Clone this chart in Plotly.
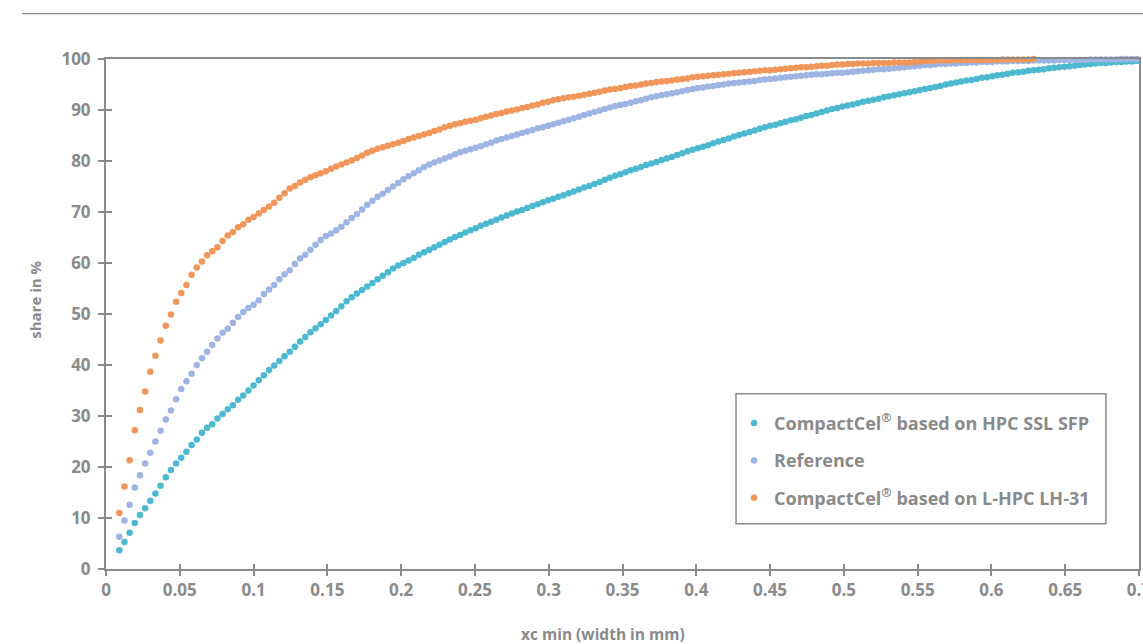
import plotly.graph_objects as go

# x classes (xc min, width in mm)
xc_min = [
    0.0090, 0.0125, 0.0160, 0.0195, 0.0230, 0.0265, 0.0300, 0.0335, 0.0370, 0.0405,
    0.0440, 0.0475, 0.0510, 0.0545, 0.0580, 0.0615, 0.0650, 0.0685, 0.0720, 0.0755,
    0.0790, 0.0825, 0.0860, 0.0895, 0.0930, 0.0965, 0.1000, 0.1035, 0.1070, 0.1105,
    0.1140, 0.1175, 0.1210, 0.1245, 0.1280, 0.1315, 0.1350, 0.1385, 0.1420, 0.1455,
    0.1490, 0.1525, 0.1560, 0.1595, 0.1630, 0.1665, 0.1700, 0.1735, 0.1770, 0.1805,
    0.1840, 0.1875, 0.1910, 0.1945, 0.1980, 0.2015, 0.2050, 0.2085, 0.2120, 0.2155,
    0.2190, 0.2225, 0.2260, 0.2295, 0.2330, 0.2365, 0.2400, 0.2435, 0.2470, 0.2505,
    0.2540, 0.2575, 0.2610, 0.2645, 0.2680, 0.2715, 0.2750, 0.2785, 0.2820, 0.2855,
    0.2890, 0.2925, 0.2960, 0.2995, 0.3030, 0.3065, 0.3100, 0.3135, 0.3170, 0.3205,
    0.3240, 0.3275, 0.3310, 0.3345, 0.3380, 0.3415, 0.3450, 0.3485, 0.3520, 0.3555,
    0.3590, 0.3625, 0.3660, 0.3695, 0.3730, 0.3765, 0.3800, 0.3835, 0.3870, 0.3905,
    0.3940, 0.3975, 0.4010, 0.4045, 0.4080, 0.4115, 0.4150, 0.4185, 0.4220, 0.4255,
    0.4290, 0.4325, 0.4360, 0.4395, 0.4430, 0.4465, 0.4500, 0.4535, 0.4570, 0.4605,
    0.4640, 0.4675, 0.4710, 0.4745, 0.4780, 0.4815, 0.4850, 0.4885, 0.4920, 0.4955,
    0.4990, 0.5025, 0.5060, 0.5095, 0.5130, 0.5165, 0.5200, 0.5235, 0.5270, 0.5305,
    0.5340, 0.5375, 0.5410, 0.5445, 0.5480, 0.5515, 0.5550, 0.5585, 0.5620, 0.5655,
    0.5690, 0.5725, 0.5760, 0.5795, 0.5830, 0.5865, 0.5900, 0.5935, 0.5970, 0.6005,
    0.6040, 0.6075, 0.6110, 0.6145, 0.6180, 0.6215, 0.6250, 0.6285, 0.6320, 0.6355,
    0.6390, 0.6425, 0.6460, 0.6495, 0.6530, 0.6565, 0.6600, 0.6635, 0.6670, 0.6705,
    0.6740, 0.6775, 0.6810, 0.6845, 0.6880, 0.6915, 0.6950, 0.6985,
]

# share in % - CompactCel based on HPC SSL SFP
hpc_ssl_sfp = [
    3.7, 5.3, 7.1, 9.0, 10.6, 11.9, 13.4, 14.8, 16.3, 18.0,
    19.4, 20.7, 21.8, 23.0, 24.3, 25.4, 26.7, 27.7, 28.4, 29.5,
    30.4, 31.3, 32.1, 33.2, 34.0, 35.0, 36.0, 37.0, 38.0, 39.0,
    39.9, 40.8, 41.7, 42.6, 43.6, 44.6, 45.5, 46.4, 47.2, 48.0,
    48.8, 49.7, 50.6, 51.5, 52.5, 53.3, 54.0, 54.7, 55.4, 56.1,
    56.8, 57.5, 58.2, 58.9, 59.5, 60.0, 60.5, 61.0, 61.6, 62.1,
    62.6, 63.1, 63.6, 64.1, 64.6, 65.1, 65.5, 66.0, 66.4, 66.8,
    67.3, 67.7, 68.1, 68.5, 68.9, 69.3, 69.7, 70.1, 70.4, 70.8,
    71.2, 71.5, 71.9, 72.3, 72.6, 73.0, 73.3, 73.7, 74.0, 74.4,
    74.8, 75.1, 75.5, 75.9, 76.3, 76.7, 77.1, 77.4, 77.8, 78.2,
    78.5, 78.8, 79.2, 79.5, 79.8, 80.2, 80.5, 80.8, 81.2, 81.5,
    81.9, 82.2, 82.5, 82.8, 83.1, 83.5, 83.8, 84.1, 84.4, 84.8,
    85.1, 85.4, 85.7, 86.0, 86.3, 86.6, 86.9, 87.1, 87.4, 87.7,
    88.0, 88.2, 88.5, 88.8, 89.0, 89.3, 89.6, 89.9, 90.2, 90.4,
    90.7, 90.9, 91.1, 91.3, 91.6, 91.8, 92.0, 92.2, 92.5, 92.7,
    92.9, 93.1, 93.3, 93.5, 93.7, 93.9, 94.1, 94.3, 94.5, 94.7,
    95.0, 95.2, 95.4, 95.6, 95.8, 95.9, 96.1, 96.3, 96.4, 96.6,
    96.8, 96.9, 97.1, 97.3, 97.4, 97.5, 97.7, 97.8, 97.9, 98.0,
    98.2, 98.3, 98.4, 98.5, 98.6, 98.7, 98.8, 98.9, 99.0, 99.1,
    99.2, 99.2, 99.3, 99.4, 99.4, 99.5, 99.5, 99.6,
]

# share in % - Reference
reference = [
    6.3, 9.5, 12.6, 16.0, 18.4, 20.7, 22.8, 25.0, 27.1, 29.3,
    31.1, 33.3, 35.3, 36.8, 38.3, 40.0, 41.3, 42.6, 43.9, 45.2,
    46.3, 47.1, 48.3, 49.4, 50.4, 51.2, 51.8, 52.7, 53.9, 54.8,
    55.7, 56.8, 57.8, 58.6, 59.8, 60.9, 61.6, 62.6, 63.6, 64.5,
    65.3, 65.8, 66.4, 67.1, 68.0, 68.8, 69.6, 70.5, 71.4, 72.2,
    73.0, 73.6, 74.3, 75.0, 75.7, 76.4, 77.0, 77.6, 78.2, 78.8,
    79.3, 79.7, 80.1, 80.5, 80.9, 81.3, 81.7, 82.0, 82.3, 82.6,
    82.9, 83.3, 83.6, 84.0, 84.3, 84.6, 84.9, 85.2, 85.5, 85.8,
    86.1, 86.4, 86.6, 86.9, 87.2, 87.5, 87.8, 88.1, 88.4, 88.7,
    89.0, 89.3, 89.6, 89.9, 90.2, 90.5, 90.8, 91.0, 91.2, 91.4,
    91.7, 91.9, 92.2, 92.5, 92.7, 92.9, 93.1, 93.3, 93.5, 93.7,
    93.9, 94.1, 94.3, 94.4, 94.6, 94.7, 94.9, 95.0, 95.2, 95.3,
    95.4, 95.5, 95.6, 95.7, 95.9, 96.0, 96.1, 96.2, 96.3, 96.4,
    96.5, 96.6, 96.7, 96.8, 96.9, 97.0, 97.0, 97.1, 97.2, 97.3,
    97.3, 97.4, 97.5, 97.6, 97.7, 97.8, 97.9, 98.0, 98.0, 98.1,
    98.2, 98.3, 98.4, 98.5, 98.6, 98.7, 98.8, 98.8, 98.9, 99.0,
    99.0, 99.1, 99.1, 99.2, 99.2, 99.3, 99.3, 99.4, 99.4, 99.4,
    99.5, 99.5, 99.5, 99.6, 99.6, 99.6, 99.6, 99.7, 99.7, 99.7,
    99.7, 99.7, 99.8, 99.8, 99.8, 99.8, 99.8, 99.8, 99.9, 99.9,
    99.9, 99.9, 99.9, 99.9, 100.0, 100.0, 100.0, 100.0,
]

# share in % - CompactCel based on L-HPC LH-31
lhpc_lh31 = [
    11.0, 16.2, 21.3, 27.2, 31.2, 34.8, 38.7, 41.8, 44.8, 47.7,
    49.9, 52.4, 54.1, 55.7, 57.7, 59.1, 60.3, 61.5, 62.3, 63.1,
    64.3, 65.4, 66.1, 67.0, 67.6, 68.5, 69.0, 69.7, 70.4, 71.1,
    71.8, 72.8, 73.7, 74.6, 75.1, 75.8, 76.3, 76.8, 77.2, 77.6,
    78.0, 78.5, 78.9, 79.3, 79.7, 80.1, 80.6, 81.1, 81.6, 82.0,
    82.4, 82.7, 83.0, 83.3, 83.6, 83.9, 84.3, 84.6, 84.9, 85.2,
    85.5, 85.9, 86.2, 86.6, 86.9, 87.2, 87.4, 87.7, 87.9, 88.1,
    88.4, 88.7, 88.9, 89.2, 89.4, 89.7, 89.9, 90.1, 90.4, 90.6,
    90.9, 91.1, 91.4, 91.6, 91.9, 92.1, 92.3, 92.5, 92.6, 92.8,
    93.0, 93.2, 93.4, 93.6, 93.8, 94.0, 94.1, 94.3, 94.5, 94.7,
    94.8, 95.0, 95.2, 95.3, 95.5, 95.6, 95.7, 95.8, 96.0, 96.1,
    96.2, 96.4, 96.5, 96.6, 96.7, 96.8, 96.9, 97.0, 97.1, 97.2,
    97.3, 97.4, 97.5, 97.6, 97.7, 97.8, 97.8, 97.9, 98.0, 98.1,
    98.2, 98.3, 98.4, 98.4, 98.5, 98.6, 98.7, 98.7, 98.8, 98.9,
    98.9, 99.0, 99.0, 99.1, 99.1, 99.1, 99.2, 99.2, 99.2, 99.2,
    99.3, 99.3, 99.3, 99.3, 99.4, 99.5, 99.6, 99.6, 99.7, 99.7,
    99.7, 99.7, 99.8, 99.8, 99.8, 99.8, 99.8, 99.8, 99.8, 99.8,
    99.8, 99.9, 99.9, 99.9, 99.9, 99.9, 99.9, 100.0, 100.1, 100.2,
    100.2, 100.2, 100.2, 100.2, 100.2, 100.2, 100.2, 100.2, 100.2, 100.2,
    100.2, 100.2, 100.2, 100.2, 100.2, 100.2, 100.2, 100.2,
]

series_names = [
    "CompactCel<sup>®</sup> based on HPC SSL SFP",
    "Reference",
    "CompactCel<sup>®</sup> based on L-HPC LH-31",
]
series_values = [hpc_ssl_sfp, reference, lhpc_lh31]
series_colors = ["#4DB9D0", "#9EB4E2", "#F0965A"]

x_ticks = [0, 0.05, 0.1, 0.15, 0.2, 0.25, 0.3, 0.35, 0.4, 0.45, 0.5, 0.55, 0.6, 0.65, 0.7]
y_ticks = [0, 10, 20, 30, 40, 50, 60, 70, 80, 90, 100]

GRAY = "#8A8A8A"
AXIS = "#8A8A8A"
FONT = "Open Sans"

fig = go.Figure()
for i, (name, vals, col) in enumerate(zip(series_names, series_values, series_colors)):
    fig.add_trace(go.Scatter(
        x=xc_min, y=vals, mode="markers", name=name,
        marker=dict(size=6.5, color=col, line=dict(width=0)),
        legendgroup=f"g{i}", cliponaxis=False,
    ))

# empty trace to register overlay axes (inner tick halves)
fig.add_trace(go.Scatter(x=[], y=[], xaxis="x2", yaxis="y2", showlegend=False, hoverinfo="skip"))

fig.update_layout(
    template="none",
    width=1143, height=644,
    margin=dict(l=106, r=4, t=59, b=75),
    paper_bgcolor="white", plot_bgcolor="white",
    font=dict(family=FONT, size=16, color=GRAY, weight=700),
    showlegend=True,
    legend=dict(
        x=0.608, y=0.322, xanchor="left", yanchor="top",
        borderwidth=0, bgcolor="rgba(0,0,0,0)",
        font=dict(family=FONT, size=18, color=GRAY, weight=700),
        tracegroupgap=11, itemwidth=30,
    ),
    xaxis=dict(
        range=[0, 0.7], tickvals=x_ticks, ticks="outside", ticklen=5, tickwidth=1.5,
        tickcolor=AXIS, showline=True, linecolor=AXIS, linewidth=2, mirror=True,
        showgrid=False, zeroline=False, automargin=False, ticklabeloverflow="allow",
        tickfont=dict(family=FONT, size=17, color=GRAY, weight=700),
    ),
    yaxis=dict(
        range=[0, 100], tickvals=y_ticks, ticks="outside", ticklen=6, tickwidth=1.5,
        tickcolor=AXIS, showline=True, linecolor=AXIS, linewidth=2, mirror=True,
        showgrid=False, zeroline=False, automargin=False, ticklabelstandoff=4,
        tickfont=dict(family=FONT, size=17, color=GRAY, weight=700),
    ),
    xaxis2=dict(
        range=[0, 0.7], tickvals=x_ticks, ticks="inside", ticklen=5, tickwidth=1.5,
        tickcolor=AXIS, showticklabels=False, showline=False, showgrid=False,
        zeroline=False, overlaying="x", anchor="y2", automargin=False,
    ),
    yaxis2=dict(
        range=[0, 100], tickvals=y_ticks, ticks="inside", ticklen=6, tickwidth=1.5,
        tickcolor=AXIS, showticklabels=False, showline=False, showgrid=False,
        zeroline=False, overlaying="y", anchor="x2", automargin=False,
    ),
    shapes=[
        dict(type="line", xref="paper", yref="paper",
             x0=-0.0813, x1=1.01, y0=1.0888, y1=1.0888,
             line=dict(color="#6E6E6E", width=1)),
        dict(type="rect", xref="paper", yref="paper",
             x0=0.6099, x1=0.968, y0=0.0888, y1=0.3437,
             line=dict(color=AXIS, width=1.5), fillcolor="white", layer="below"),
    ],
    annotations=[
        dict(text="share in %", xref="paper", yref="paper", x=-0.0687, y=0.528,
             textangle=-90, showarrow=False, xanchor="center", yanchor="middle",
             font=dict(family=FONT, size=15, color=GRAY, weight=700)),
        dict(text="xc min (width in mm)", xref="paper", yref="paper", x=0.481, y=-0.1268,
             showarrow=False, xanchor="center", yanchor="middle",
             font=dict(family=FONT, size=15.5, color=GRAY, weight=700)),
    ],
)

fig.write_html(
    "out.html",
    config={"displayModeBar": False},
    post_script="document.body.style.margin='0';document.body.style.overflow='hidden';",
)
